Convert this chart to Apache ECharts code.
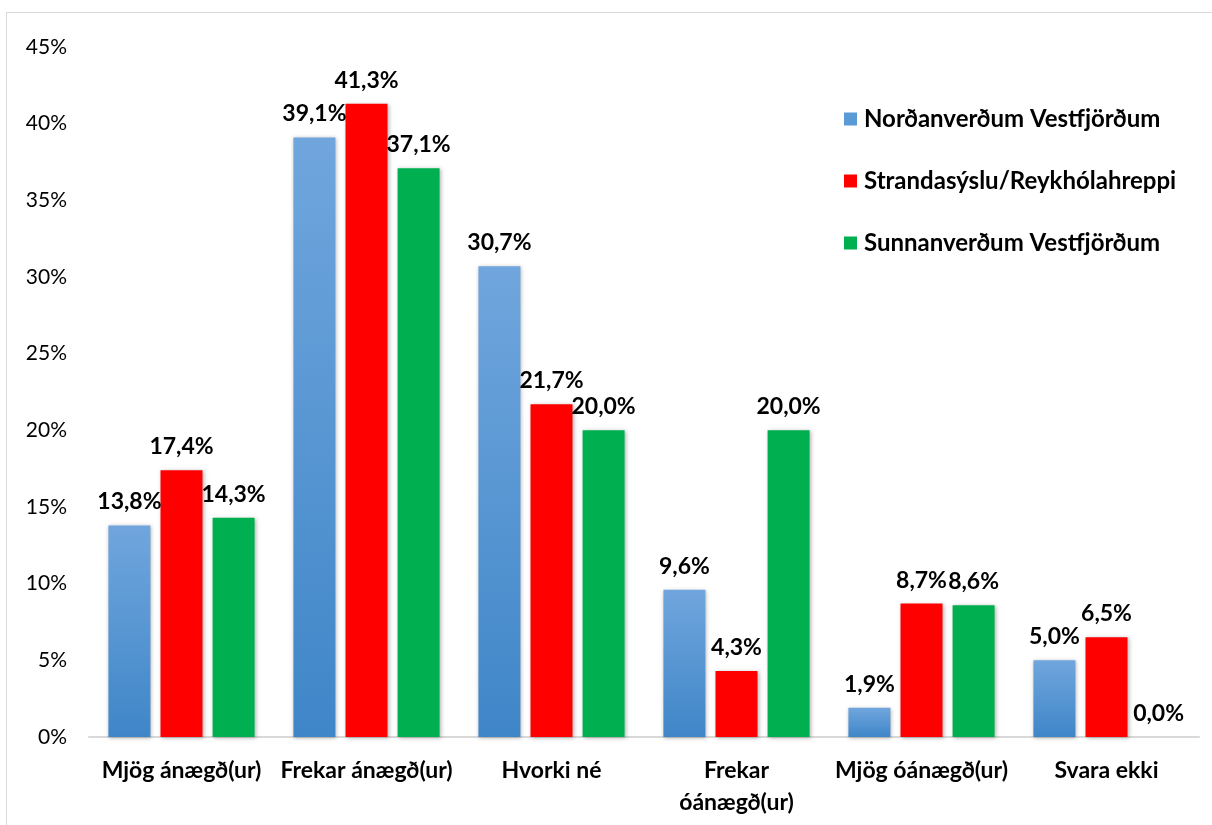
<!DOCTYPE html>
<html>
<head>
<meta charset="utf-8">
<script src="https://cdn.jsdelivr.net/npm/echarts@6/dist/echarts.min.js"></script>
<style>
  html, body { margin: 0; padding: 0; background: #fff; }
  #chart { position: absolute; left: 6px; top: 12px; width: 1206px; height: 813px; box-sizing: border-box; border: 1px solid #d9d9d9; border-right: none; border-bottom: none; }
</style>
</head>
<body>
<div id="chart"></div>
<script>
// flokkar og gildi (%)
const categories = ['Mjög ánægð(ur)', 'Frekar ánægð(ur)', 'Hvorki né', 'Frekar\nóánægð(ur)', 'Mjög óánægð(ur)', 'Svara ekki'];
const seriesNames = ['Norðanverðum Vestfjörðum', 'Strandasýslu/Reykhólahreppi', 'Sunnanverðum Vestfjörðum'];
const nordan = [13.8, 39.1, 30.7, 9.6, 1.9, 5.0];
const stranda = [17.4, 41.3, 21.7, 4.3, 8.7, 6.5];
const sunnan = [14.3, 37.1, 20.0, 20.0, 8.6, 0.0];
const yTicks = [0, 5, 10, 15, 20, 25, 30, 35, 40, 45];

const font = 'Lato, "Open Sans", sans-serif';
const blueGrad = new echarts.graphic.LinearGradient(0, 0, 0, 1, [
    {offset: 0, color: '#70a6dd'},
    {offset: 1, color: '#3f86c8'}
]);
const colors = [blueGrad, '#ff0000', '#00b050'];

const myChart = echarts.init(document.getElementById('chart'));

function fmt(v) {
    return v.toFixed(1).replace('.', ',') + '%';
}

const series = [nordan, stranda, sunnan].map((vals, i) => ({
    name: seriesNames[i],
    type: 'bar',
    data: vals,
    barWidth: 42,
    barGap: '24%',
    itemStyle: {
        color: colors[i],
        shadowBlur: 4,
        shadowColor: 'rgba(0,0,0,0.3)',
        shadowOffsetX: 1,
        shadowOffsetY: 1
    },
    label: {
        show: true,
        position: 'top',
        distance: 12,
        fontFamily: font,
        fontWeight: 'bold',
        fontSize: 23,
        color: '#000',
        formatter: (p) => fmt(p.value)
    }
}));

myChart.setOption({
    animation: false,
    textStyle: {fontFamily: font},
    legend: {
        orient: 'vertical',
        left: 832,
        top: 89,
        itemWidth: 13,
        itemHeight: 13,
        itemGap: 38,
        icon: 'rect',
        data: seriesNames.map((n, i) => ({
            name: n,
            itemStyle: {color: i === 0 ? '#5b9bd5' : colors[i]}
        })),
        textStyle: {fontFamily: font, fontWeight: 'bold', fontSize: 24, color: '#000', padding: [0, 0, 0, 2]}
    },
    grid: {left: 82, right: 13, top: 34, bottom: 88, containLabel: false},
    xAxis: {
        type: 'category',
        data: categories,
        axisLine: {lineStyle: {color: '#d9d9d9', width: 2}},
        axisTick: {show: false},
        axisLabel: {
            fontFamily: font,
            fontWeight: 'bold',
            fontSize: 23,
            color: '#000',
            margin: 18,
            lineHeight: 32,
            interval: 0
        }
    },
    yAxis: {
        type: 'value',
        min: yTicks[0],
        max: yTicks[yTicks.length - 1],
        interval: 5,
        axisLine: {show: false},
        axisTick: {show: false},
        splitLine: {show: false},
        axisLabel: {
            fontFamily: font,
            fontSize: 21,
            color: '#000',
            margin: 22,
            formatter: '{value}%'
        }
    },
    series: series
});
</script>
</body>
</html>
